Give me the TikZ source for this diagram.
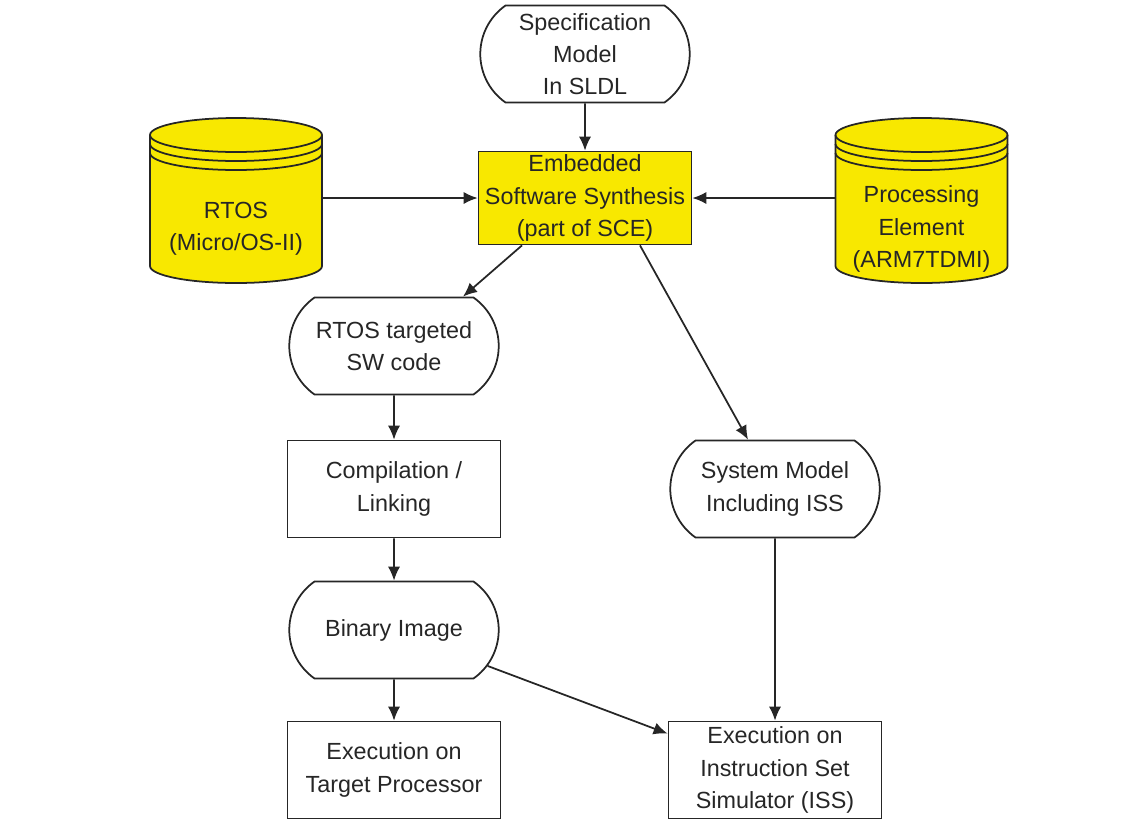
\documentclass[tikz,border=0pt]{standalone}
\usepackage{fontspec}
\setmainfont{Liberation Sans}
\usetikzlibrary{shapes.misc,arrows.meta}
\definecolor{synthyellow}{RGB}{248,232,0}

\begin{document}
\begin{tikzpicture}[x=0.02cm,y=-0.02cm,line width=1pt,
  font=\fontsize{13.3}{18.4}\selectfont,color=black!85,
  box/.style={draw,align=center,minimum width=4.26cm,minimum height=1.94cm,inner sep=1pt},
  datum/.style={box,rounded rectangle,rounded rectangle arc length=110},
  store/.style={align=center,minimum width=3.44cm,minimum height=3.3cm},
  cyl/.style={draw,fill=synthyellow},
  flow/.style={-{Latex[length=8pt,width=7pt]}}]
\useasboundingbox (0,0) rectangle (1143,819);
% the two yellow databases
\foreach \cx in {236,921.5}{
  \filldraw[cyl] (\cx-86,135) -- (\cx-86,266)
     arc[start angle=180,end angle=0,x radius=86,y radius=17] -- (\cx+86,135)
     arc[start angle=0,end angle=-180,x radius=86,y radius=17];
  \foreach \dy in {0,9,18}
    \draw (\cx-86,135+\dy) arc[start angle=180,end angle=0,x radius=86,y radius=17];
}
\node[store] (rtos) at (236,229) {RTOS\\(Micro/OS-II)};
\node[store] (pe) at (921.5,229) {Processing\\Element\\(ARM7TDMI)};

\node[datum] (spec) at (585,54) {Specification\\Model\\In SLDL};
\node[box,fill=synthyellow,minimum height=1.86cm] (synth) at (585,198)
     {Embedded\\Software Synthesis\\(part of SCE)};
\node[datum] (swcode) at (394,346) {RTOS targeted\\SW code};
\node[box] (compile) at (394,489) {Compilation /\\Linking};
\node[datum] (sysmodel) at (775,489) {System Model\\Including ISS};
\node[datum] (binary) at (394,630) {Binary Image};
\node[box] (exectarget) at (394,770) {Execution on\\Target Processor};
\node[box] (execiss) at (775,770) {Execution on\\Instruction Set\\Simulator (ISS)};

\draw[flow] (spec) -- (synth);
\draw[flow] (rtos.east |- synth) -- (synth.west);
\draw[flow] (pe.west |- synth) -- (synth.east);
\draw[flow] ([xshift=-1.26cm]synth.south) -- ([xshift=1.38cm]swcode.north);
\draw[flow] ([xshift=1.1cm]synth.south) -- ([xshift=-0.54cm]sysmodel.north);
\draw[flow] (swcode) -- (compile);
\draw[flow] (compile) -- (binary);
\draw[flow] (binary) -- (exectarget);
\draw[flow] (binary.-21) -- ([yshift=-0.26cm]execiss.north west);
\draw[flow] (sysmodel) -- (execiss);
\end{tikzpicture}
\end{document}
